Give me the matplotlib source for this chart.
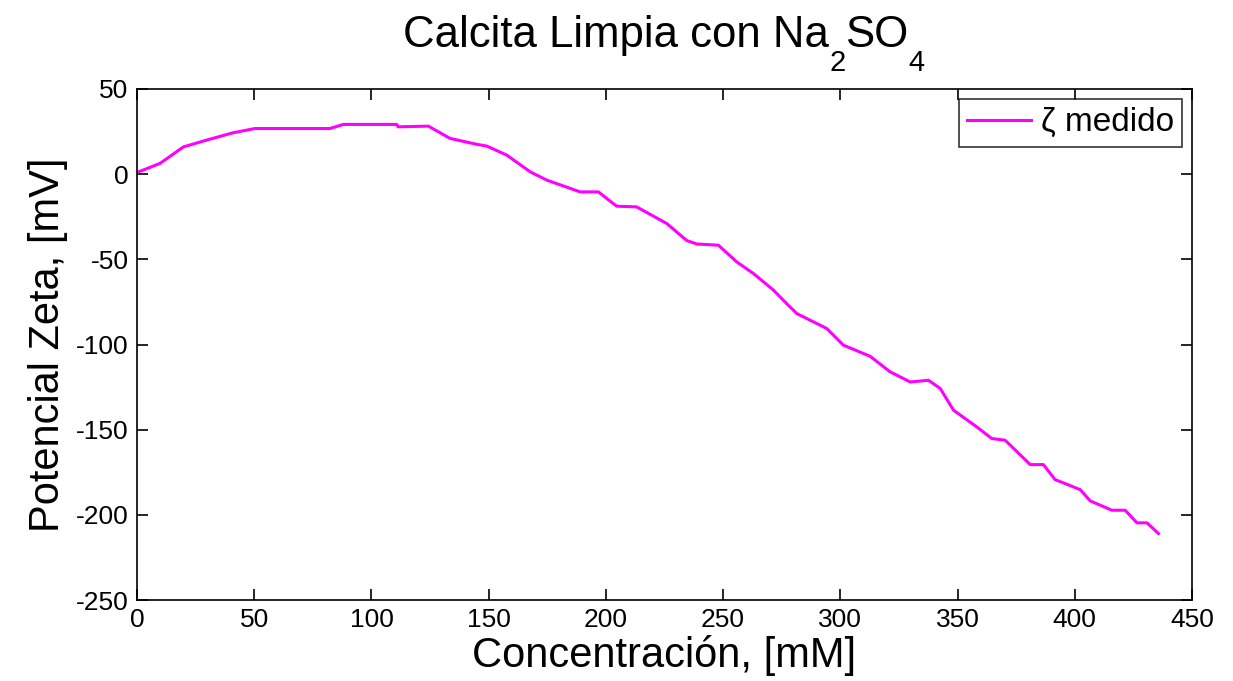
import matplotlib
matplotlib.use("Agg")
import matplotlib.pyplot as plt

plt.rcParams['font.family'] = ['Liberation Sans', 'DejaVu Sans']
plt.rcParams['axes.unicode_minus'] = False

conc = [0, 9.8, 19.8, 29.7, 41, 50.3, 82.3, 88, 110.8, 111.4, 124.3, 133.5, 145, 149.2,
        157.7, 167.7, 174.8, 189, 196.8, 204.6, 213.1, 226, 234.5, 238.8, 248, 255.8,
        262.9, 271.4, 277.1, 281.4, 294.2, 301.3, 312.7, 321.2, 329.8, 337.6, 342.6,
        348.3, 358.2, 364.6, 370.3, 381, 386.6, 391.6, 402.3, 406.6, 415.8, 421.5,
        426.5, 430.8, 435.7]
zeta = [1.0, 6.3, 16, 20, 24.3, 26.8, 26.8, 29.2, 29.2, 27.8, 28.2, 21, 17.5, 16.5,
        11.2, 1.4, -3.5, -10.4, -10.4, -18.8, -19.2, -29, -39, -41, -41.7, -51.5,
        -58.3, -68, -76, -81.8, -90.6, -100.4, -106.9, -116, -122, -121, -125.8,
        -138.6, -148.4, -155.2, -156.2, -170.5, -170.5, -179.3, -185.2, -191.8,
        -197.3, -197.3, -204.7, -204.7, -211]

xticks = [0, 50, 100, 150, 200, 250, 300, 350, 400, 450]
yticks = [50, 0, -50, -100, -150, -200, -250]
title_parts = [('Calcita Limpia con Na', False), ('2', True), ('SO', False), ('4', True)]

W, H = 1233, 681
fig = plt.figure(figsize=(W / 100, H / 100), dpi=100)
ax = fig.add_axes([137 / W, 1 - 600 / H, (1192 - 137) / W, (600 - 89) / H])

ax.plot(conc, zeta, color='#FF00FF', lw=2.2, label='ζ medido')

ax.set_xlim(0, 450)
ax.set_ylim(-250, 50)
ax.set_xticks(xticks)
ax.set_yticks(yticks)
ax.tick_params(direction='in', length=8, width=1.2, top=True, right=True,
               labelsize=19)
ax.tick_params(axis='x', pad=6)
ax.tick_params(axis='y', pad=6)
for s in ax.spines.values():
    s.set_linewidth(1.2)

ax.set_xlabel('Concentración, [mM]', fontsize=30, labelpad=2)
ax.set_ylabel('Potencial Zeta, [mV]', fontsize=30, labelpad=6)

leg = ax.legend(loc='upper right', fontsize=24, frameon=True, fancybox=False,
                edgecolor='black', handlelength=1.9, handletextpad=0.3,
                borderaxespad=0.3, borderpad=0.25)
leg.get_frame().set_linewidth(1.2)

# Title with MATLAB-style subscripts (built from pieces)
fig.canvas.draw()
r = fig.canvas.get_renderer()
texts = []
for s, sub in title_parts:
    t = fig.text(0, 0, s, fontsize=21 if sub else 31.5, va='baseline', ha='left',
                 transform=None)
    texts.append((t, sub))
widths = [t.get_window_extent(r).width for t, _ in texts]
total = sum(widths)
x0 = 664 - total / 2
base = H - 47
for (t, sub), w in zip(texts, widths):
    t.set_position((x0, base - (24 if sub else 0)))
    x0 += w

fig.savefig('out.png', dpi=100)
